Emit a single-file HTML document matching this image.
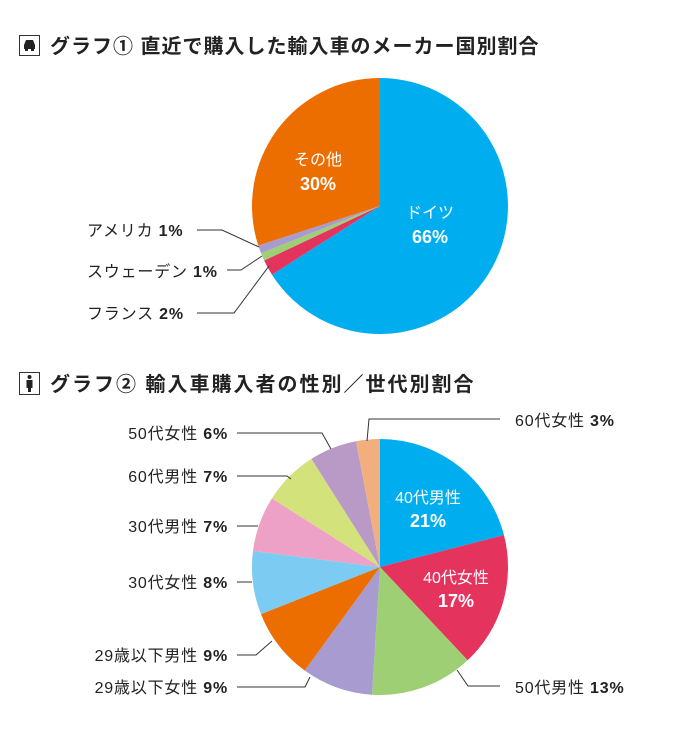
<!DOCTYPE html>
<html><head><meta charset="utf-8"><style>
body{margin:0;background:#fff;}
svg{display:block;font-family:"Liberation Sans","Noto Sans CJK JP",sans-serif;}
.t{font-size:20px;font-weight:bold;fill:#222;}
.l{font-size:16px;fill:#222;letter-spacing:0.8px;}
.b{font-weight:bold;}
.w{font-size:16px;fill:#fff;}
.wb{font-size:18px;fill:#fff;font-weight:bold;}
line,polyline{stroke:#333;stroke-width:1;fill:none;}
</style></head><body>
<svg id="s" width="680" height="739" viewBox="0 0 680 739">
<rect x="0" y="0" width="680" height="739" fill="#fff"/>
<rect x="19.5" y="35.5" width="20" height="20" fill="#fff" stroke="#333"/>
<path d="M24 49 L24 45 L26 40 L33 40 L35 45 L35 49 Z" fill="#222"/>
<rect x="25" y="48" width="3" height="3" fill="#222"/><rect x="31" y="48" width="3" height="3" fill="#222"/>
<text class="t" x="50" y="53" style="letter-spacing:1px">グラフ① 直近で購入した輸入車のメーカー国別割合</text>
<rect x="19.5" y="372.5" width="20" height="22" fill="#fff" stroke="#333"/>
<circle cx="29.5" cy="377" r="2" fill="#222"/>
<path d="M26.5 380 h6 v8 h-1.5 v4 h-3 v-4 h-1.5 z" fill="#222"/>
<text class="t" x="50" y="391" style="letter-spacing:2px">グラフ② 輸入車購入者の性別／世代別割合</text>
<g id="p1"></g><g id="p2"></g>
<text class="w" x="318" y="165" text-anchor="middle">その他</text>
<text class="wb" x="318" y="190" text-anchor="middle">30%</text>
<text class="w" x="430" y="218" text-anchor="middle">ドイツ</text>
<text class="wb" x="430" y="243" text-anchor="middle">66%</text>
<text class="l" x="87" y="236">アメリカ  <tspan class="b">1%</tspan></text>
<text class="l" x="87" y="277">スウェーデン  <tspan class="b">1%</tspan></text>
<text class="l" x="87" y="319">フランス  <tspan class="b">2%</tspan></text>
<polyline points="197,230 222,230 259,247"/>
<polyline points="227,270 241,270 262,256"/>
<polyline points="197,313 234,313 269,266"/>
<text class="w" x="428" y="503" text-anchor="middle">40代男性</text>
<text class="wb" x="428" y="527" text-anchor="middle">21%</text>
<text class="w" x="456" y="583" text-anchor="middle">40代女性</text>
<text class="wb" x="456" y="607" text-anchor="middle">17%</text>
<g class="l" text-anchor="end">
<text x="228" y="439">50代女性  <tspan class="b">6%</tspan></text>
<text x="228" y="482">60代男性  <tspan class="b">7%</tspan></text>
<text x="228" y="532">30代男性  <tspan class="b">7%</tspan></text>
<text x="228" y="588">30代女性  <tspan class="b">8%</tspan></text>
<text x="228" y="661">29歳以下男性  <tspan class="b">9%</tspan></text>
<text x="228" y="693">29歳以下女性  <tspan class="b">9%</tspan></text>
</g>
<text class="l" x="515" y="426">60代女性  <tspan class="b">3%</tspan></text>
<text class="l" x="515" y="693">50代男性  <tspan class="b">13%</tspan></text>
<polyline points="237,433 322,433 331,449"/>
<polyline points="237,476 287,476 291,479"/>
<line x1="237" y1="526" x2="258" y2="526"/>
<line x1="237" y1="582" x2="252" y2="582"/>
<polyline points="237,655 256,655 272,641"/>
<polyline points="237,687 305,687 310,677"/>
<polyline points="367,441 369,419 500,419"/>
<polyline points="457,670 468,686 500,686"/>
</svg>
<script>
function pie(id,cx,cy,r,data){
 var g=document.getElementById(id),a=0,h='';
 data.forEach(function(d){
  var a0=a/100*2*Math.PI,a1=(a+d[0])/100*2*Math.PI;a+=d[0];
  var x0=cx+r*Math.sin(a0),y0=cy-r*Math.cos(a0),x1=cx+r*Math.sin(a1),y1=cy-r*Math.cos(a1);
  h+='<path d="M'+cx+' '+cy+' L'+x0+' '+y0+' A'+r+' '+r+' 0 '+(d[0]>50?1:0)+' 1 '+x1+' '+y1+' Z" fill="'+d[1]+'"/>';
 });
 g.innerHTML=h;
}
pie('p1',380,206,128,[[66,'#00aeef'],[2,'#e4335c'],[1,'#9fcf74'],[1,'#a79bcf'],[30,'#ec6d00']]);
pie('p2',380,567,128,[[21,'#00aeef'],[17,'#e4335c'],[13,'#9fcf74'],[9,'#a79bcf'],[9,'#ec6d00'],[8,'#7ccbf3'],[7,'#eea1c7'],[7,'#d4e27b'],[6,'#b99ac6'],[3,'#f2af7d']]);
</script>
</body></html>
